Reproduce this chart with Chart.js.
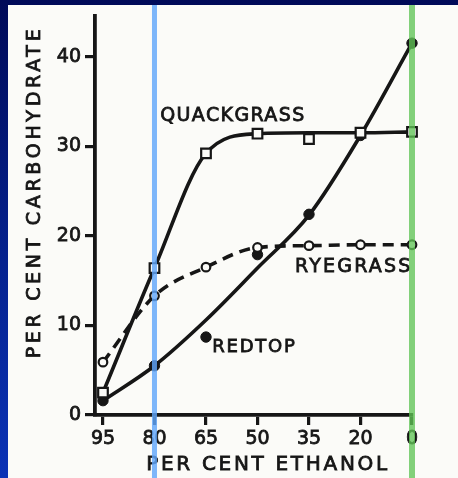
<!DOCTYPE html>
<html>
<head>
<meta charset="utf-8">
<script src="https://cdn.jsdelivr.net/npm/chart.js@4.4.0/dist/chart.umd.min.js"></script>
<style>
    html, body {
        margin: 0;
        padding: 0;
        width: 458px;
        height: 478px;
        overflow: hidden;
        background: linear-gradient(180deg, #000a58 0%, #05228f 55%, #0b33b6 100%);
    }
    #chart { position: absolute; left: 0; top: 0; }
</style>
</head>
<body>
<canvas id="chart" width="458" height="478"></canvas>
<script>
const ethanolLabels = ['95', '80', '65', '50', '35', '20', '0']
const carbTicks = [0, 10, 20, 30, 40]
const highlighted = ['80', '0']

// measured points and the hand drawn curves through them
const quackgrassPoints = [2.5, 16.4, 29.2, 31.4, 30.8, 31.5, 31.6]
const quackgrassCurve = [2.5, 16.4, 29.2, 31.4, 31.5, 31.5, 31.6]
const ryegrassPoints = [5.9, 13.3, 16.5, 18.7, 18.9, 19.0, 19.0]
const redtopPoints = [1.6, 5.5, 8.7, 17.9, 22.4, 31.2, 41.5]
const redtopCurve = [1.6, 5.5, 10.6, 16.4, 22.3, 31.2, 41.5]

const seriesNames = ['QUACKGRASS', 'RYEGRASS', 'REDTOP']
const yTitle = 'PER CENT CARBOHYDRATE'
const xTitle = 'PER CENT ETHANOL'

const ink = '#161616'
const font = '"DejaVu Sans", sans-serif'

const toXY = arr => arr.map((v, i) => ({ x: i, y: v }))

// the lettering on the scan is heavier than DejaVu Book, so stroke it a little
function spacedText(ctx, text, x, y, size, spacing, align) {
    ctx.font = size + 'px ' + font
    ctx.letterSpacing = spacing + 'px'
    ctx.textAlign = align
    ctx.textBaseline = 'middle'
    ctx.fillStyle = ink
    ctx.strokeStyle = ink
    ctx.lineWidth = 0.8
    ctx.fillText(text, x, y)
    ctx.strokeText(text, x, y)
}

const paperPlugin = {
    id: 'paper',
    beforeDraw(chart) {
        const ctx = chart.ctx
        ctx.save()
        ctx.fillStyle = '#fbfbf8'
        ctx.fillRect(8, 5, chart.width - 8, chart.height - 5)
        ctx.restore()
    },
    afterDraw(chart) {
        const ctx = chart.ctx
        const xs = chart.scales.x
        const ys = chart.scales.y

        ctx.save()
        spacedText(ctx, seriesNames[0], xs.getPixelForValue(1.11), ys.getPixelForValue(33.4), 19, 1.4, 'left')
        spacedText(ctx, seriesNames[1], xs.getPixelForValue(3.73), ys.getPixelForValue(16.5), 19, 2.2, 'left')
        spacedText(ctx, seriesNames[2], xs.getPixelForValue(2.12), ys.getPixelForValue(7.6), 18, 1.8, 'left')

        spacedText(ctx, xTitle, 268, 465, 20, 2.7, 'center')

        ctx.translate(35, 192)
        ctx.rotate(-Math.PI / 2)
        spacedText(ctx, yTitle, 0, 0, 19, 3.7, 'center')
        ctx.restore()

        // coloured marker lines laid over the scan
        ctx.save()
        highlighted.forEach((lab, k) => {
            const px = xs.getPixelForValue(ethanolLabels.indexOf(lab))
            ctx.strokeStyle = k == 0 ? 'rgba(96, 166, 250, 0.82)' : 'rgba(96, 196, 86, 0.78)'
            ctx.lineWidth = k == 0 ? 5 : 6
            ctx.beginPath()
            ctx.moveTo(px, 5)
            ctx.lineTo(px, chart.height)
            ctx.stroke()
        })
        ctx.restore()
    }
}

const tickFont = { family: 'DejaVu Sans', size: 19 }

const ctx = document.getElementById('chart').getContext('2d')
const chart = new Chart(ctx, {
    type: 'line',
    data: {
        datasets: [
            {
                label: 'Quackgrass points',
                data: toXY(quackgrassPoints),
                showLine: false,
                pointStyle: 'rect',
                pointRadius: 6.8,
                pointBackgroundColor: '#fbfbf8',
                pointBorderColor: ink,
                pointBorderWidth: 2.2,
                clip: false
            },
            {
                label: 'Ryegrass points',
                data: toXY(ryegrassPoints),
                showLine: false,
                pointStyle: 'circle',
                pointRadius: 4.3,
                pointBackgroundColor: '#fbfbf8',
                pointBorderColor: ink,
                pointBorderWidth: 2.2,
                clip: false
            },
            {
                label: 'Redtop points',
                data: toXY(redtopPoints),
                showLine: false,
                pointStyle: 'circle',
                pointRadius: 5.2,
                pointBackgroundColor: ink,
                pointBorderColor: ink,
                pointBorderWidth: 1,
                clip: false
            },
            {
                label: 'Quackgrass',
                data: toXY(quackgrassCurve),
                borderColor: ink,
                borderWidth: 3.6,
                cubicInterpolationMode: 'monotone',
                pointRadius: 0,
                clip: false
            },
            {
                label: 'Ryegrass',
                data: toXY(ryegrassPoints),
                borderColor: ink,
                borderWidth: 3.6,
                borderDash: [11, 7],
                cubicInterpolationMode: 'monotone',
                pointRadius: 0,
                clip: false
            },
            {
                label: 'Redtop',
                data: toXY(redtopCurve),
                borderColor: ink,
                borderWidth: 3.6,
                cubicInterpolationMode: 'monotone',
                pointRadius: 0,
                clip: false
            }
        ]
    },
    options: {
        responsive: false,
        animation: false,
        layout: { padding: { top: 5, right: 46, left: 0, bottom: 0 } },
        plugins: {
            legend: { display: false },
            tooltip: { enabled: false }
        },
        scales: {
            x: {
                type: 'linear',
                min: -0.155,
                max: 6,
                afterFit: scale => { scale.height = 63 },
                afterBuildTicks: scale => {
                    scale.ticks = ethanolLabels.map((_, i) => ({ value: i }))
                },
                ticks: {
                    callback: v => ethanolLabels[v],
                    color: ink,
                    textStrokeColor: ink,
                    textStrokeWidth: 0.8,
                    padding: 3,
                    maxRotation: 0,
                    font: tickFont
                },
                grid: { drawOnChartArea: false, tickLength: 10, color: ink, lineWidth: 3.2 },
                border: { display: true, color: ink, width: 3.8 }
            },
            y: {
                min: 0,
                max: 44.6,
                afterFit: scale => { scale.width = 95 },
                afterBuildTicks: scale => {
                    scale.ticks = carbTicks.map(v => ({ value: v }))
                },
                ticks: {
                    color: ink,
                    textStrokeColor: ink,
                    textStrokeWidth: 0.8,
                    padding: 4,
                    font: tickFont
                },
                grid: { drawOnChartArea: false, tickLength: 10, color: ink, lineWidth: 3.2 },
                border: { display: true, color: ink, width: 3.8 }
            }
        }
    },
    plugins: [paperPlugin]
})
</script>
</body>
</html>
